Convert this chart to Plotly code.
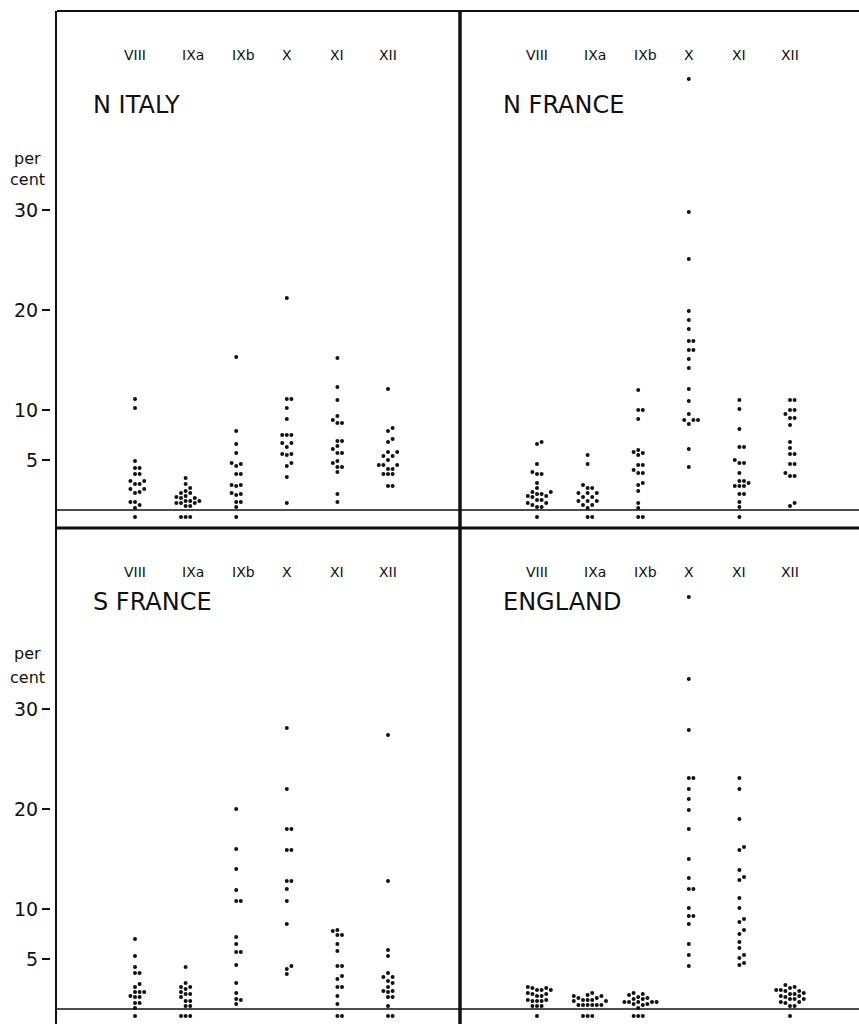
import plotly.graph_objects as go

# ---------------------------------------------------------------------------
# Per cent values, one list per region and hoard class (0 = class absent)
# ---------------------------------------------------------------------------
CATEGORIES = ["VIII", "IXa", "IXb", "X", "XI", "XII"]
REGIONS = ["N ITALY", "N FRANCE", "S FRANCE", "ENGLAND"]
Y_TICKS = [5, 10, 20, 30]

N_ITALY_VIII = [11.1, 10.2, 4.9, 4.2, 4.2, 3.6, 3.6, 2.9, 2.9, 2.6, 2.6, 2.1, 2.1,
                1.8, 1.7, 0.8, 0.8, 0.5, 0.2, 0]
N_ITALY_IXA = [3.2, 2.6, 2.2, 1.9, 1.7, 1.7, 1.4, 1.3, 1.2, 1.2, 0.9, 0.9, 0.9,
               0.7, 0.7, 0.7, 0.4, 0.4, 0, 0, 0]
N_ITALY_IXB = [15.3, 7.9, 6.6, 5.7, 4.7, 4.6, 4.4, 3.6, 3.6, 2.5, 2.5, 2.4, 1.7,
               1.6, 1.5, 0.8, 0.8, 0.3, 0]
N_ITALY_X = [21.2, 11.1, 11.1, 10.2, 9.1, 7.5, 7.5, 7.5, 6.7, 6.7, 6.3, 5.6, 5.6,
             5.5, 4.7, 4.4, 3.3, 0.7]
N_ITALY_XI = [15.2, 12.3, 11.0, 9.4, 9.0, 8.7, 8.7, 6.9, 6.9, 6.4, 6.1, 5.7, 5.7,
              4.9, 4.7, 4.3, 4.3, 3.8, 1.6, 0.8]
N_ITALY_XII = [12.1, 8.2, 7.9, 7.1, 6.8, 5.8, 5.8, 5.4, 5.4, 5.0, 4.5, 4.5, 4.5,
               4.1, 4.1, 3.6, 3.6, 3.6, 2.4, 2.4]

N_FRANCE_VIII = [6.8, 6.6, 4.6, 3.8, 3.6, 3.6, 2.7, 2.2, 1.8, 1.8, 1.6, 1.6, 1.4,
                 1.4, 1.3, 1.0, 1.0, 0.7, 0.7, 0.5, 0.3, 0.3, 0]
N_FRANCE_IXA = [5.5, 4.6, 2.5, 2.2, 2.2, 1.7, 1.7, 1.7, 1.3, 1.3, 0.9, 0.9, 0.9,
                0.5, 0.5, 0.2, 0, 0]
N_FRANCE_IXB = [12.0, 10.0, 10.0, 9.1, 6.0, 5.8, 5.7, 5.5, 4.5, 4.5, 4.0, 3.7, 3.7,
                2.7, 2.5, 1.9, 0.7, 0.2, 0, 0]
N_FRANCE_X = [43.1, 29.8, 25.1, 19.9, 19.0, 18.1, 16.9, 16.9, 16.0, 16.0, 15.1,
              14.2, 12.1, 10.9, 9.6, 9.0, 9.0, 9.0, 8.6, 6.1, 4.3]
N_FRANCE_XI = [11.0, 10.1, 8.1, 6.3, 6.3, 5.0, 4.7, 4.7, 3.7, 2.9, 2.9, 2.7, 2.4,
               2.4, 2.4, 1.6, 1.6, 0.8, 0.3, 0]
N_FRANCE_XII = [11.0, 11.0, 10.0, 10.0, 9.6, 9.2, 9.2, 8.5, 6.8, 6.2, 5.6, 5.6,
                4.6, 4.6, 3.7, 3.4, 3.4, 0.7, 0.4]

S_FRANCE_VIII = [7.0, 5.3, 4.2, 3.6, 3.6, 2.5, 2.2, 1.7, 1.7, 1.7, 1.3, 1.2, 1.2,
                 0.6, 0.6, 0.1, 0]
S_FRANCE_IXA = [4.2, 2.6, 2.2, 2.2, 2.0, 1.7, 1.5, 1.5, 1.2, 0.8, 0.8, 0.3, 0.3,
                0, 0, 0]
S_FRANCE_IXB = [20.0, 16.0, 14.0, 11.9, 10.8, 10.8, 7.2, 6.5, 5.7, 5.7, 4.4, 2.6,
                1.6, 1.0, 0.9, 0.5]
S_FRANCE_X = [28.1, 22.0, 18.0, 18.0, 15.9, 15.9, 12.8, 12.8, 12.0, 10.8, 8.5,
              4.3, 4.0, 3.5]
S_FRANCE_XI = [7.9, 7.8, 7.4, 7.4, 6.5, 5.8, 4.3, 4.3, 3.3, 3.0, 2.2, 2.2, 1.3,
               0.5, 0, 0]
S_FRANCE_XII = [27.4, 12.8, 5.9, 5.3, 3.6, 3.2, 3.2, 2.8, 2.6, 2.2, 1.8, 1.8, 1.7,
                1.2, 1.2, 0.3, 0, 0]

ENGLAND_VIII = [2.2, 2.1, 2.1, 1.9, 1.9, 1.9, 1.6, 1.5, 1.5, 1.3, 1.3, 0.9, 0.9,
                0.8, 0.8, 0.8, 0.3, 0.3, 0.3, 0]
ENGLAND_IXA = [1.6, 1.4, 1.3, 1.3, 1.1, 1.1, 0.9, 0.9, 0.9, 0.8, 0.8, 0.4, 0.4,
               0.4, 0.4, 0.4, 0.4, 0, 0, 0]
ENGLAND_IXB = [1.6, 1.5, 1.4, 1.2, 1.1, 1.0, 1.0, 0.7, 0.7, 0.7, 0.7, 0.7, 0.5,
               0.5, 0.4, 0.1, 0, 0, 0]
ENGLAND_X = [41.2, 33.0, 27.9, 23.1, 23.1, 22.0, 21.0, 19.9, 18.0, 15.0, 13.1,
             12.0, 12.0, 10.1, 9.3, 9.3, 8.5, 6.5, 5.4, 4.3]
ENGLAND_XI = [23.1, 22.0, 19.0, 16.2, 15.9, 13.9, 13.2, 12.9, 11.1, 10.1, 9.0,
              8.7, 7.9, 7.5, 6.7, 6.1, 5.4, 5.1, 4.6, 4.4]
ENGLAND_XII = [2.4, 2.2, 2.1, 1.9, 1.9, 1.8, 1.8, 1.6, 1.5, 1.5, 1.3, 1.3, 1.2,
               1.0, 1.0, 1.0, 0.7, 0.7, 0.6, 0.3, 0.3, 0]

PANELS = [
    [N_ITALY_VIII, N_ITALY_IXA, N_ITALY_IXB, N_ITALY_X, N_ITALY_XI, N_ITALY_XII],
    [N_FRANCE_VIII, N_FRANCE_IXA, N_FRANCE_IXB, N_FRANCE_X, N_FRANCE_XI, N_FRANCE_XII],
    [S_FRANCE_VIII, S_FRANCE_IXA, S_FRANCE_IXB, S_FRANCE_X, S_FRANCE_XI, S_FRANCE_XII],
    [ENGLAND_VIII, ENGLAND_IXA, ENGLAND_IXB, ENGLAND_X, ENGLAND_XI, ENGLAND_XII],
]

# ---------------------------------------------------------------------------
# Page geometry (pixels) and styling
# ---------------------------------------------------------------------------
W, H = 859, 1024
INK = "#111111"
FONT = "DejaVu Sans"

TOP_Y, MID_Y = 11, 528           # frame top, thick divider between rows
LEFT_X, DIV_X = 57, 460          # frame left, thick divider between columns
BASE_Y = [510, 1009]             # zero line of the top / bottom row
PX_PER_UNIT_Y = 10.0             # 10 per cent = 100 px
PX_PER_CAT = 50.6                # spacing of the class columns
FIRST_COL = [135, 537]           # x of the VIII column, left / right panel
ZERO_ROW = -0.7                  # absent classes sit just under the zero line
LABEL_SHIFT = [0, 7, 7, 0, 0, 0]
PER_CENT_Y = [(158, 179), (653, 677)]


def px_x(v):
    return v / W


def px_y(v):
    return 1 - v / H


def display_y(v):
    return ZERO_ROW if v == 0 else v


def swarm_offsets(values, step=4.6, min_dist=4.6):
    """Horizontal pixel offsets so that neighbouring dots do not overlap."""
    order = sorted(range(len(values)), key=lambda i: display_y(values[i]))
    placed, offsets = [], [0.0] * len(values)
    for i in order:
        y = display_y(values[i]) * PX_PER_UNIT_Y
        k = 0
        while True:
            mag = (k + 1) // 2 * step
            cand = mag if k % 2 == 1 else -mag
            if all((cand - px) ** 2 + (y - py) ** 2 >= min_dist ** 2 for px, py in placed):
                break
            k += 1
        placed.append((cand, y))
        offsets[i] = cand
    return offsets


fig = go.Figure()
layout_axes = {}

for p, cols in enumerate(PANELS):
    row, col = divmod(p, 2)
    ax = "" if p == 0 else str(p + 1)
    x0 = LEFT_X if col == 0 else DIV_X
    x1 = DIV_X if col == 0 else W
    y_top = TOP_Y if row == 0 else MID_Y
    y_bot = MID_Y if row == 0 else H
    base = BASE_Y[row]

    xr = [-(FIRST_COL[col] - x0) / PX_PER_CAT, (x1 - FIRST_COL[col]) / PX_PER_CAT]
    yr = [-(y_bot - base) / PX_PER_UNIT_Y, (base - y_top) / PX_PER_UNIT_Y]

    xs, ys = [], []
    for c, vals in enumerate(cols):
        offs = swarm_offsets(vals)
        for v, o in zip(vals, offs):
            xs.append(c + o / PX_PER_CAT)
            ys.append(display_y(v))

    fig.add_trace(go.Scatter(
        x=xs, y=ys, mode="markers", xaxis="x" + ax, yaxis="y" + ax,
        marker=dict(size=4, color=INK, line=dict(width=0)),
        hoverinfo="skip", showlegend=False,
    ))

    layout_axes["xaxis" + ax] = dict(
        domain=[px_x(x0), px_x(x1)], range=xr, visible=False,
        anchor="y" + ax, fixedrange=True,
    )
    yax = dict(
        domain=[px_y(y_bot), px_y(y_top)], range=yr, showgrid=False,
        zeroline=False, showline=False, fixedrange=True,
    )
    if col == 0:
        yax.update(
            anchor="free", position=px_x(50), tickvals=Y_TICKS,
            ticktext=[str(t) for t in Y_TICKS], ticks="outside", ticklen=8,
            tickwidth=2, tickcolor=INK, ticklabelstandoff=0,
            tickfont=dict(family=FONT, size=19, color=INK),
        )
    else:
        yax.update(visible=False, anchor="x" + ax)
    layout_axes["yaxis" + ax] = yax

    # class labels along the top of each panel
    for c, name in enumerate(CATEGORIES):
        fig.add_annotation(
            x=c, xref="x" + ax, y=px_y(y_top + 44), yref="paper",
            text=name, showarrow=False, xshift=LABEL_SHIFT[c],
            font=dict(family=FONT, size=14, color=INK),
            xanchor="center", yanchor="middle",
        )
    # region title
    fig.add_annotation(
        x=px_x(x0 + (34 if col == 0 else 41)), xref="paper",
        y=px_y(y_top + (94 if row == 0 else 74)), yref="paper",
        text=REGIONS[p], showarrow=False,
        font=dict(family=FONT, size=24, color=INK),
        xanchor="left", yanchor="middle",
    )
    if col == 0:
        for word, yy in zip(("per", "cent"), PER_CENT_Y[row]):
            fig.add_annotation(
                x=px_x(28), xref="paper", y=px_y(yy), yref="paper",
                text=word, showarrow=False,
                font=dict(family=FONT, size=16, color=INK),
                xanchor="center", yanchor="middle",
            )

# frame lines
lines = [
    (LEFT_X, TOP_Y, W, TOP_Y, 2),
    (LEFT_X - 1, TOP_Y, LEFT_X - 1, H, 2),
    (DIV_X, TOP_Y, DIV_X, H, 3.5),
    (LEFT_X, BASE_Y[0], W, BASE_Y[0], 1.5),
    (LEFT_X, MID_Y, W, MID_Y, 3),
    (LEFT_X, BASE_Y[1], W, BASE_Y[1], 1.5),
]
for xa, ya, xb, yb, w in lines:
    fig.add_shape(type="line", xref="paper", yref="paper",
                  x0=px_x(xa), y0=px_y(ya), x1=px_x(xb), y1=px_y(yb),
                  line=dict(color=INK, width=w), layer="below")

fig.update_layout(
    width=W, height=H, autosize=False,
    margin=dict(l=0, r=0, t=0, b=0),
    paper_bgcolor="white", plot_bgcolor="rgba(0,0,0,0)",
    showlegend=False, **layout_axes,
)

fig.write_html("out.html", config={"displayModeBar": False})
